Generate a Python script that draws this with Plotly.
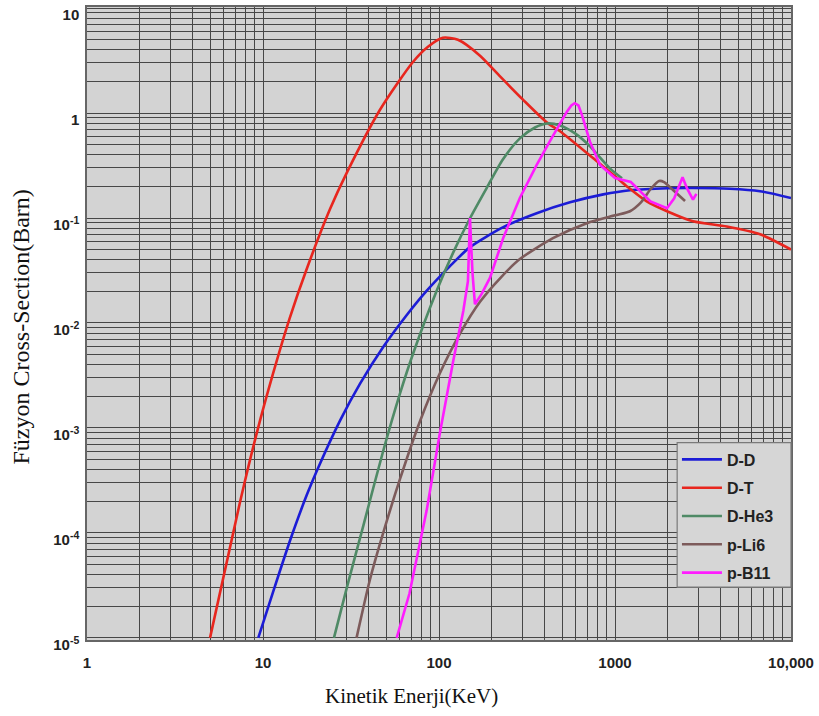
import plotly.graph_objects as go

# ---- data ----
dd_x = [9.4, 11.4, 14.2, 17.7, 21.1, 27.4, 35.6, 48.3, 65.6, 85, 115.5, 150, 232, 359, 555, 858, 1217,
        2000, 2775, 4500, 6670, 10000]
dd_y = [1e-5, 2.73e-5, 8.34e-5, 2.28e-4, 4.59e-4, 1.175e-3, 2.64e-3, 5.93e-3, 0.0119, 0.0202, 0.0348,
        0.0528, 0.0818, 0.111, 0.141, 0.168, 0.184, 0.192, 0.193, 0.19, 0.18, 0.155]

dt_x = [5, 7.4, 9.23, 11.4, 14.2, 17.8, 24.0, 30, 46.3, 71.3, 86.6, 105, 128.2, 171, 223, 300, 411, 487,
        753, 1000, 1170, 1514, 1974, 2775, 4315, 6670, 10000]
dt_y = [1e-5, 1.96e-4, 9.04e-4, 3.29e-3, 0.0112, 0.0334, 0.121, 0.272, 1.08, 3.08, 4.28, 5.21, 4.99,
        3.52, 2.22, 1.34, 0.81, 0.67, 0.37, 0.25, 0.2, 0.144, 0.116, 0.093, 0.083, 0.07, 0.05]

dhe_x = [25.3, 30.0, 37.2, 48.1, 60, 71.2, 97.4, 120, 150, 187.5, 231, 288, 351, 411, 487, 593, 721, 935, 1096]
dhe_y = [1e-5, 3.05e-5, 1.18e-4, 5.97e-4, 2.12e-3, 5.09e-3, 0.0206, 0.0463, 0.0995, 0.196, 0.362, 0.573,
         0.728, 0.795, 0.761, 0.639, 0.481, 0.297, 0.239]

pli_x = [34, 40.5, 48.1, 60, 78, 101, 131.6, 171, 223, 288, 444, 692, 1000, 1217, 1400, 1600, 1780,
         1900, 2100, 2500]
pli_y = [1e-5, 3.58e-5, 9.9e-5, 3.25e-4, 1.16e-3, 3.3e-3, 7.91e-3, 0.0159, 0.0268, 0.0406, 0.0643, 0.0893,
         0.106, 0.116, 0.14, 0.19, 0.225, 0.22, 0.19, 0.145]

pb_x = [57.5, 68, 85.1, 101, 120.6, 137.4, 146, 148.5, 150, 152, 155, 160, 175, 195, 232, 288, 359, 426,
        533, 565, 590, 620, 650, 720, 822, 1000, 1230, 1590, 1974, 2170, 2420, 2570, 2775, 2900]
pb_y = [1e-5, 2.66e-5, 1.64e-4, 8.8e-4, 4.4e-3, 0.013, 0.025, 0.06, 0.1, 0.06, 0.03, 0.0151, 0.019,
        0.027, 0.065, 0.155, 0.32, 0.536, 1.03, 1.18, 1.24, 1.18, 0.95, 0.536, 0.32, 0.24, 0.22, 0.144,
        0.124, 0.154, 0.244, 0.19, 0.15, 0.17]

names = ["D-D", "D-T", "D-He3", "p-Li6", "p-B11"]
colors = ["#1c1cd6", "#e8261e", "#4f8a66", "#7d5b5b", "#ff1cff"]
series = [(dd_x, dd_y), (dt_x, dt_y), (dhe_x, dhe_y), (pli_x, pli_y), (pb_x, pb_y)]

x_tickvals = [1, 10, 100, 1000, 10000]
x_ticktext = ["1", "10", "100", "1000", "10,000"]
y_tickvals = [1e-5, 1e-4, 1e-3, 1e-2, 1e-1, 1, 10]
y_ticktext = ["10<sup>-5</sup>", "10<sup>-4</sup>", "10<sup>-3</sup>", "10<sup>-2</sup>",
              "10<sup>-1</sup>", "1", "10"]

x_title = "Kinetik Enerji(KeV)"
y_title = "Füzyon Cross-Section(Barn)"

x_minor = [m * 10 ** k for k in range(0, 4) for m in range(2, 10)]
y_minor = [m * 10.0 ** k for k in range(-5, 1) for m in range(2, 10)]

fig = go.Figure()
for (xs, ys), n, c in zip(series, names, colors):
    shape = "linear" if n == "p-B11" else "spline"
    fig.add_trace(go.Scatter(
        x=xs, y=ys, mode="lines", name=n, legendgroup=n,
        line=dict(color=c, width=2.6, shape=shape, smoothing=0.7),
    ))

grid_col = "#474747"
tick_font = dict(family="Arial", size=15, color="#222", weight="bold")
fig.update_layout(
    width=819, height=716,
    margin=dict(l=87, r=27, t=5, b=76),
    paper_bgcolor="white", plot_bgcolor="#d3d3d3",
    showlegend=True,
    legend=dict(
        x=0.838, y=0.312, xanchor="left", yanchor="top",
        bgcolor="rgba(0,0,0,0)", borderwidth=0,
        font=dict(family="Arial", size=16, color="#222", weight="bold"),
        tracegroupgap=4.5, itemwidth=40, traceorder="grouped",
    ),
    shapes=[
        dict(type="rect", xref="paper", yref="paper", x0=0.8383, x1=1.0, y0=0.0835, y1=0.3118,
             layer="above", fillcolor="#d6d6d6", line=dict(color="#7a7a7a", width=1.2)),
    ],
    xaxis=dict(
        type="log", range=[0, 4],
        tickvals=x_tickvals, ticktext=x_ticktext, tickfont=tick_font,
        ticks="", ticklabelstandoff=8, ticklabeloverflow="allow",
        showgrid=True, gridcolor=grid_col, gridwidth=1.4,
        minor=dict(tickvals=x_minor, showgrid=True, gridcolor=grid_col, gridwidth=1.4, ticks=""),
        showline=True, linecolor="#666", linewidth=1.5, mirror=True,
        zeroline=False,
    ),
    yaxis=dict(
        type="log", range=[-5.02, 1.01],
        tickvals=y_tickvals, ticktext=y_ticktext, tickfont=tick_font,
        ticks="", ticklabelstandoff=3, ticklabelshift=7, ticklabeloverflow="allow",
        showgrid=True, gridcolor=grid_col, gridwidth=1.4,
        minor=dict(tickvals=y_minor, showgrid=True, gridcolor=grid_col, gridwidth=1.4, ticks=""),
        showline=True, linecolor="#666", linewidth=1.5, mirror=True,
        zeroline=False,
    ),
    annotations=[
        dict(text=x_title, xref="paper", yref="paper", x=0.461, y=-0.088,
             xanchor="center", yanchor="middle", showarrow=False,
             font=dict(family="Liberation Serif", size=21, color="#111")),
        dict(text=y_title, xref="paper", yref="paper", x=-0.094, y=0.495,
             xanchor="center", yanchor="middle", showarrow=False, textangle=-90,
             font=dict(family="Liberation Serif", size=24, color="#111")),
    ],
)

fig.write_html("out.html")
